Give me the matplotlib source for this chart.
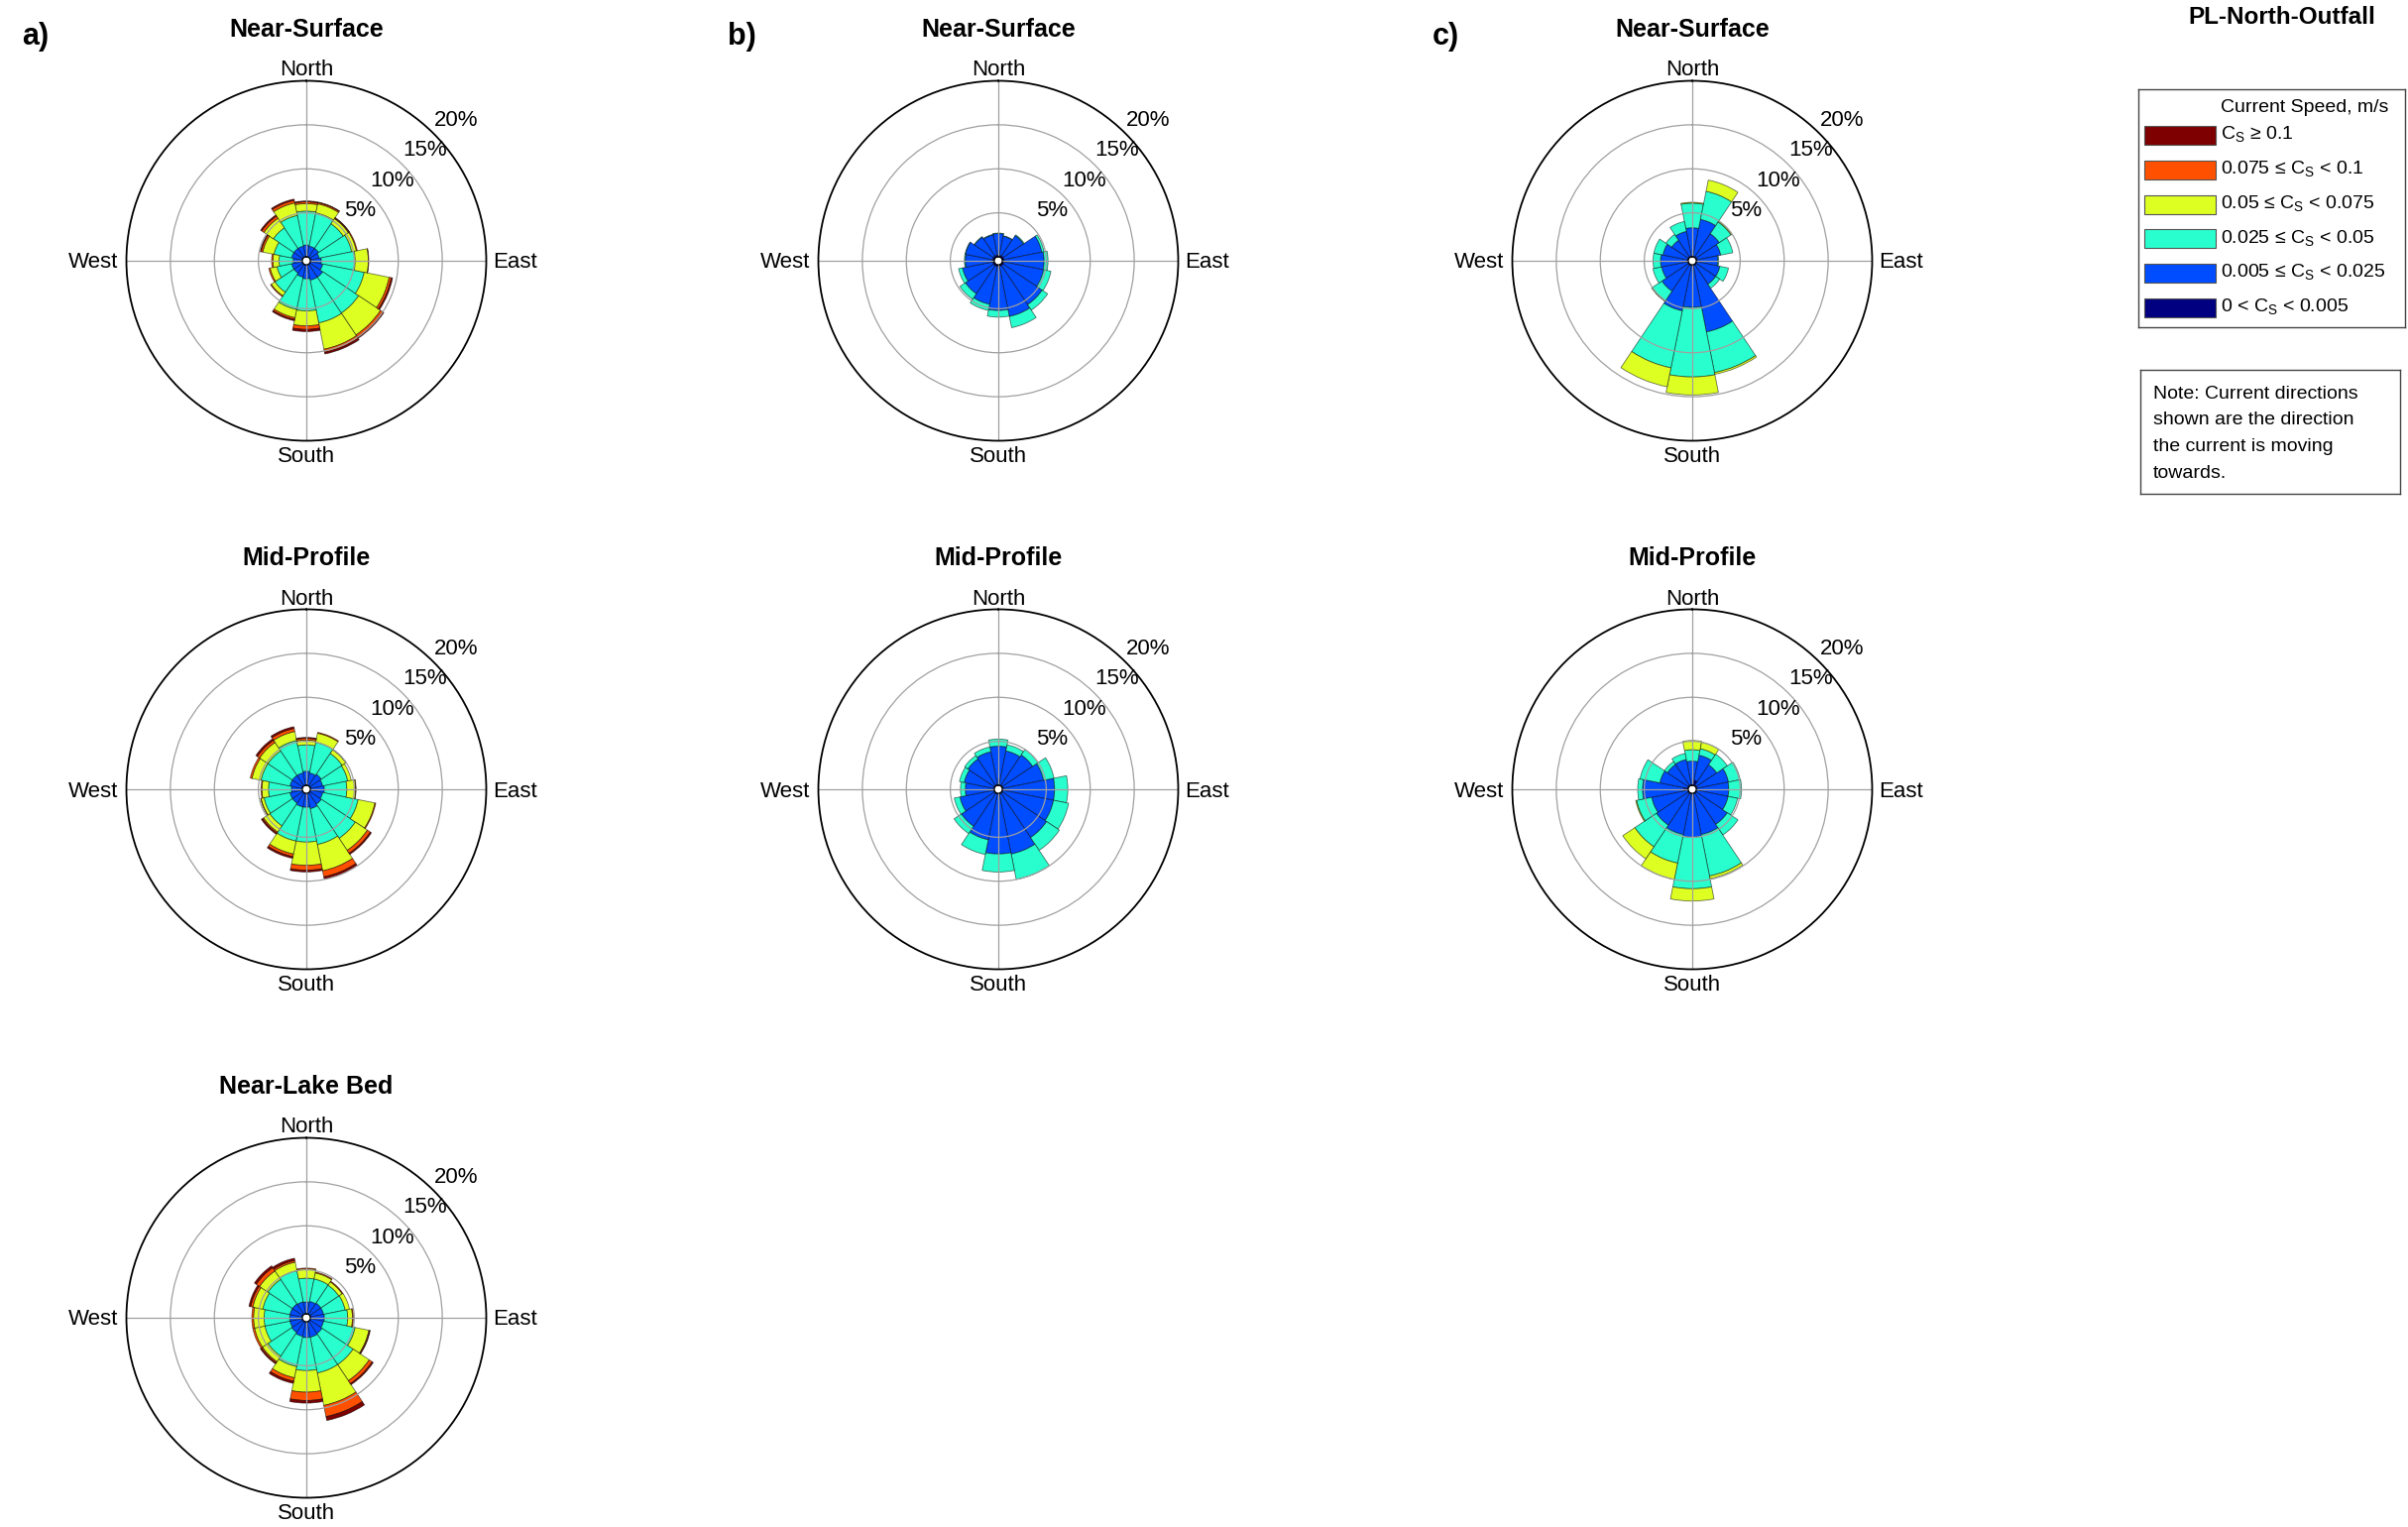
import numpy as np
import matplotlib
matplotlib.use("Agg")
import matplotlib.pyplot as plt
from matplotlib.patches import Rectangle

plt.rcParams['font.family'] = ['Liberation Sans', 'DejaVu Sans']
plt.rcParams['mathtext.fontset'] = 'custom'
plt.rcParams['mathtext.rm'] = 'Liberation Sans'
plt.rcParams['mathtext.it'] = 'Liberation Sans:italic'
plt.rcParams['mathtext.default'] = 'regular'

# ---------------- data ----------------
DIRECTIONS = ['N', 'NNE', 'NE', 'ENE', 'E', 'ESE', 'SE', 'SSE',
              'S', 'SSW', 'SW', 'WSW', 'W', 'WNW', 'NW', 'NNW']
DIR_DEG = [0, 22.5, 45, 67.5, 90, 112.5, 135, 157.5,
           180, 202.5, 225, 247.5, 270, 292.5, 315, 337.5]

CLASS_LABELS = ['0 < C$_S$ < 0.005',
                '0.005 \u2264 C$_S$ < 0.025',
                '0.025 \u2264 C$_S$ < 0.05',
                '0.05 \u2264 C$_S$ < 0.075',
                '0.075 \u2264 C$_S$ < 0.1',
                'C$_S$ \u2265 0.1']
CLASS_COLORS = ['#000080', '#004CFF', '#29FFCE', '#DDFF22', '#FF5000', '#7F0000']

# frequency (%) per speed class (rows: navy, blue, cyan, yellow, orange, dark red)
A_SURF = [
    [0.05] * 16,
    [1.3, 1.2, 1.2, 1.0, 1.2, 1.4, 1.75, 1.75, 1.55, 1.4, 1.2, 1.2, 1.0, 1.2, 1.2, 1.2],
    [3.85, 3.85, 3.35, 3.75, 3.85, 4.8, 4.9, 4.95, 3.65, 3.75, 2.6, 1.7, 1.6, 2.05, 2.8, 3.55],
    [0.85, 1.05, 0.7, 0.55, 1.5, 2.9, 3.0, 3.05, 1.7, 0.95, 0.5, 0.8, 0.7, 1.3, 1.3, 1.45],
    [0.2, 0.15, 0.1, 0.1, 0.05, 0.25, 0.3, 0.35, 0.4, 0.2, 0.1, 0.15, 0.15, 0.2, 0.3, 0.3],
    [0.1, 0.05, 0.05, 0.0, 0.0, 0.15, 0.15, 0.2, 0.25, 0.15, 0.0, 0.0, 0.0, 0.1, 0.15, 0.15],
]
A_MID = [
    [0.05] * 16,
    [1.55, 1.4, 1.55, 1.4, 1.55, 1.4, 1.55, 1.75, 1.55, 1.55, 1.4, 1.4, 1.2, 1.4, 1.4, 1.4],
    [3.0, 3.55, 2.85, 2.9, 2.55, 4.1, 4.65, 4.15, 3.95, 3.95, 3.1, 3.0, 2.6, 3.35, 3.35, 3.75],
    [0.55, 1.05, 0.5, 0.4, 1.0, 1.95, 1.65, 3.05, 2.65, 1.5, 0.85, 0.35, 0.75, 1.05, 1.15, 1.05],
    [0.2, 0.1, 0.05, 0.0, 0.05, 0.1, 0.4, 0.7, 0.55, 0.3, 0.15, 0.05, 0.1, 0.2, 0.3, 0.35],
    [0.1, 0.0, 0.0, 0.0, 0.0, 0.0, 0.15, 0.25, 0.2, 0.2, 0.15, 0.0, 0.0, 0.0, 0.2, 0.2],
]
A_BED = [
    [0.05] * 16,
    [1.3, 1.4, 1.5, 1.5, 1.55, 1.5, 1.65, 1.75, 1.75, 1.65, 1.5, 1.4, 1.4, 1.4, 1.4, 1.35],
    [2.7, 2.6, 2.45, 2.5, 2.65, 3.65, 4.25, 4.15, 3.75, 3.5, 3.25, 2.9, 2.9, 3.15, 3.35, 3.6],
    [1.05, 0.7, 0.45, 0.5, 0.55, 1.6, 2.2, 3.75, 2.45, 1.3, 0.75, 1.2, 1.2, 1.15, 1.15, 1.0],
    [0.1, 0.1, 0.1, 0.0, 0.1, 0.1, 0.4, 1.3, 0.95, 0.4, 0.15, 0.2, 0.2, 0.25, 0.45, 0.2],
    [0.0, 0.0, 0.0, 0.0, 0.0, 0.05, 0.15, 0.45, 0.3, 0.25, 0.15, 0.0, 0.0, 0.2, 0.25, 0.25],
]
B_SURF = [
    [0.2] * 16,
    [2.45, 2.2, 2.8, 4.4, 4.55, 4.6, 5.35, 5.8, 5.0, 4.4, 3.85, 3.5, 3.1, 3.15, 2.6, 2.35],
    [0.05, 0.05, 0.1, 0.25, 0.45, 0.85, 0.75, 1.3, 0.75, 0.7, 0.75, 0.45, 0.1, 0.05, 0.05, 0.05],
    [0.0] * 16,
    [0.0] * 16,
    [0.0] * 16,
]
B_MID = [
    [0.1] * 16,
    [4.35, 3.9, 4.15, 4.7, 5.85, 5.85, 6.05, 6.95, 6.8, 5.3, 4.5, 3.9, 3.2, 3.4, 3.6, 3.8],
    [0.8, 0.7, 0.75, 1.2, 1.5, 1.75, 1.75, 2.95, 2.05, 1.7, 1.0, 0.65, 0.55, 0.55, 0.45, 0.55],
    [0.0] * 16,
    [0.0] * 16,
    [0.0] * 16,
]
C_SURF = [
    [0.1] * 16,
    [3.2, 4.25, 3.15, 2.75, 2.35, 2.65, 2.65, 7.7, 4.75, 5.25, 3.6, 3.0, 3.05, 2.85, 2.25, 2.85],
    [2.8, 3.25, 1.6, 1.4, 0.1, 1.0, 0.55, 4.7, 7.9, 6.6, 1.35, 1.0, 0.85, 1.05, 0.8, 1.15],
    [0.1, 1.3, 0.1, 0.0, 0.0, 0.0, 0.0, 0.2, 2.05, 2.2, 0.05, 0.0, 0.0, 0.0, 0.0, 0.0],
    [0.0] * 16,
    [0.0] * 16,
]
C_MID = [
    [0.1, 0.6, 0.1, 0.1, 0.1, 0.1, 0.1, 0.1, 0.1, 0.1, 0.1, 0.1, 0.5, 0.1, 0.1, 0.1],
    [2.65, 2.9, 2.8, 3.65, 3.6, 3.6, 4.25, 4.7, 4.9, 4.7, 4.35, 4.15, 4.7, 3.2, 2.85, 2.9],
    [1.3, 0.75, 1.45, 1.35, 1.45, 1.1, 1.45, 4.8, 5.85, 3.3, 2.95, 1.75, 0.55, 2.3, 0.4, 0.7],
    [1.05, 0.75, 0.0, 0.0, 0.0, 0.0, 0.0, 0.3, 1.4, 1.9, 1.65, 0.1, 0.0, 0.0, 0.0, 0.0],
    [0.0] * 16,
    [0.0] * 16,
]

RING_VALUES = [5, 10, 15, 20]
R_MAX = 20
PANEL_LETTERS = ['a)', 'b)', 'c)']
ROW_TITLES = ['Near-Surface', 'Mid-Profile', 'Near-Lake Bed']

# ---------------- figure ----------------
W, H = 2429, 1540
fig = plt.figure(figsize=(W / 100, H / 100), dpi=100)
fig.patch.set_facecolor('white')

COL_CX = [309, 1007, 1707]
ROW_CY = [263, 796, 1329]
RAD_PX = 181.5

PANELS = [(0, 0, A_SURF), (0, 1, A_MID), (0, 2, A_BED),
          (1, 0, B_SURF), (1, 1, B_MID),
          (2, 0, C_SURF), (2, 1, C_MID)]

EDGE = (0.0, 0.0, 0.0, 0.55)
GRID_C = '#a0a0a0'


def draw_rose(ax, data):
    theta = np.deg2rad(np.array(DIR_DEG))
    width = 2 * np.pi / len(DIR_DEG)
    bottom = np.zeros(len(DIR_DEG))
    for cls_vals, color in zip(data, CLASS_COLORS):
        h = np.asarray(cls_vals, dtype=float)
        m = h > 0
        if m.any():
            ax.bar(theta[m], h[m], width=width, bottom=bottom[m], align='center',
                   color=color, edgecolor=EDGE, linewidth=0.6, zorder=1)
        bottom = bottom + h
    ax.set_theta_zero_location('N')
    ax.set_theta_direction(-1)
    ax.set_ylim(0, R_MAX)
    ax.set_rorigin(-0.45)
    ax.set_xticks(np.deg2rad([0, 90, 180, 270]))
    ax.set_xticklabels([])
    ax.set_yticks(RING_VALUES[:-1])
    ax.set_yticklabels([])
    ax.tick_params(length=0)
    ax.grid(True, color=GRID_C, linewidth=0.9)
    ax.spines['polar'].set_color('black')
    ax.spines['polar'].set_linewidth(1.3)
    for v in RING_VALUES:
        ax.text(np.deg2rad(47), v + 2.9, f'{v}%', ha='center', va='center',
                fontsize=16, clip_on=False)
    kw = dict(textcoords='offset points', fontsize=16, annotation_clip=False)
    ax.annotate('North', xy=(0, R_MAX), xytext=(0, 3.6), ha='center', va='baseline', **kw)
    ax.annotate('South', xy=(np.pi, R_MAX), xytext=(0, -15.8), ha='center', va='baseline', **kw)
    ax.annotate('East', xy=(np.pi / 2, R_MAX), xytext=(5.0, -5.4), ha='left', va='baseline', **kw)
    ax.annotate('West', xy=(3 * np.pi / 2, R_MAX), xytext=(-5.8, -5.4), ha='right', va='baseline', **kw)


for col, row, data in PANELS:
    cx, cy = COL_CX[col], ROW_CY[row]
    ax = fig.add_axes([(cx - RAD_PX) / W, 1 - (cy + RAD_PX) / H, 2 * RAD_PX / W, 2 * RAD_PX / H],
                      projection='polar')
    draw_rose(ax, data)
    fig.text(cx / W, 1 - (cy - RAD_PX - 44.2) / H, ROW_TITLES[row], ha='center', va='baseline',
             fontsize=18, fontweight='bold')

for letter, lx in zip(PANEL_LETTERS, [22, 734, 1445]):
    fig.text(lx / W, 1 - 45 / H, letter, ha='left', va='baseline', fontsize=22, fontweight='bold')

fig.text(2302 / W, 1 - 24 / H, 'PL-North-Outfall', ha='center', va='baseline',
         fontsize=17.5, fontweight='bold')

# ---------------- legend box ----------------
LX0, LY0, LX1, LY1 = 2157, 90, 2426, 330
lax = fig.add_axes([LX0 / W, 1 - LY1 / H, (LX1 - LX0) / W, (LY1 - LY0) / H])
lax.set_xlim(0, LX1 - LX0)
lax.set_ylim(LY1 - LY0, 0)
lax.set_xticks([])
lax.set_yticks([])
for s in lax.spines.values():
    s.set_color('#444444')
    s.set_linewidth(1.0)
lax.text(83, 18, 'Current Speed, m/s', ha='left', va='center', fontsize=14)
row_centers = [46.3, 81.3, 116.0, 150.5, 185.3, 220.0]
for i, yc in enumerate(row_centers):
    k = len(CLASS_COLORS) - 1 - i
    lax.add_patch(Rectangle((6, yc - 9.5), 72, 19, facecolor=CLASS_COLORS[k],
                            edgecolor='#555555', linewidth=0.8))
    lax.text(83, yc + 4.0, CLASS_LABELS[k], ha='left', va='baseline', fontsize=14)

# ---------------- note box ----------------
NX0, NY0, NX1, NY1 = 2159, 373, 2421, 498
nax = fig.add_axes([NX0 / W, 1 - NY1 / H, (NX1 - NX0) / W, (NY1 - NY0) / H])
nax.set_xlim(0, NX1 - NX0)
nax.set_ylim(NY1 - NY0, 0)
nax.set_xticks([])
nax.set_yticks([])
for s in nax.spines.values():
    s.set_color('#444444')
    s.set_linewidth(1.0)
NOTE_LINES = ['Note: Current directions', 'shown are the direction',
              'the current is moving', 'towards.']
for i, line in enumerate(NOTE_LINES):
    nax.text(12.7, 28.7 + 26.8 * i, line, ha='left', va='baseline', fontsize=14)

fig.savefig('out.png', dpi=100, facecolor='white')
